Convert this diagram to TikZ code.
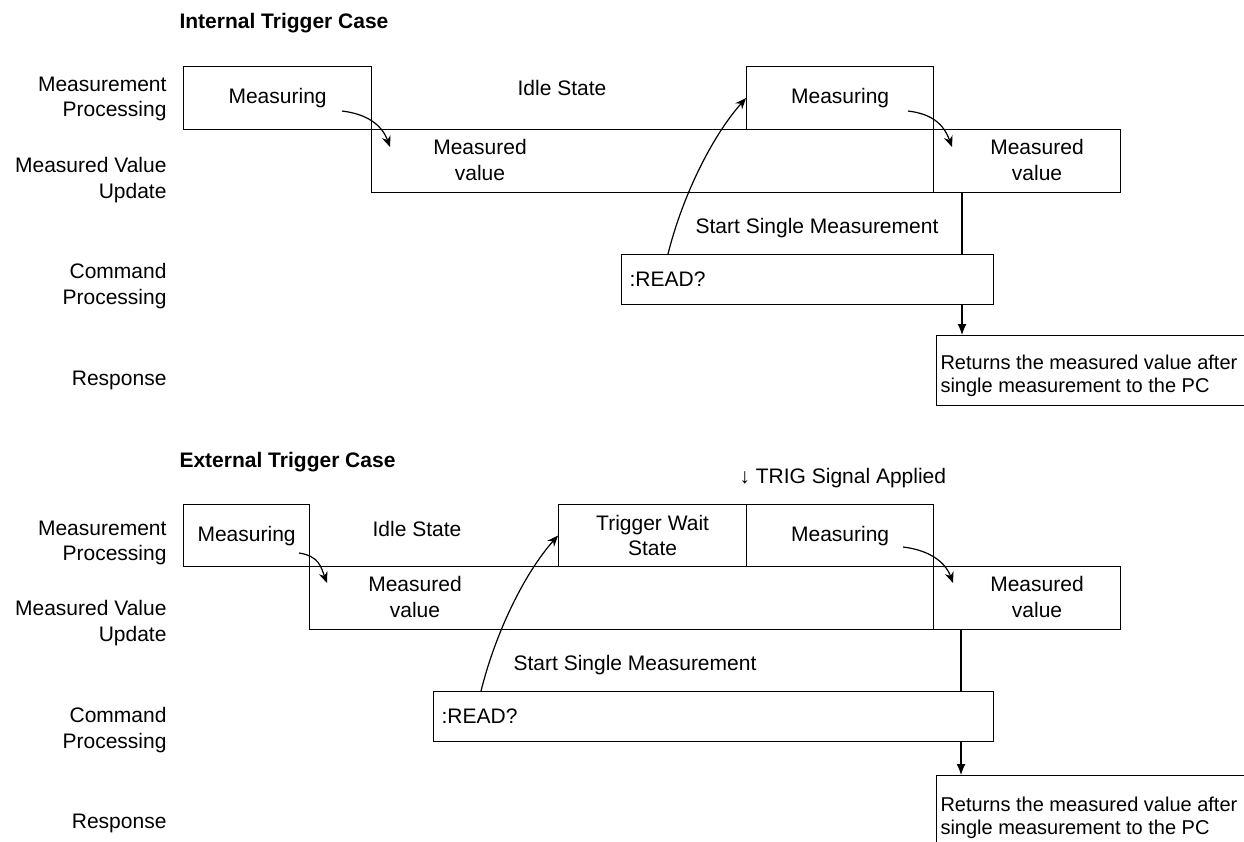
\documentclass[tikz,border=0pt]{standalone}
\usepackage{fontspec}
\setmainfont{Liberation Sans}
\usetikzlibrary{arrows.meta}

\begin{document}
\begin{tikzpicture}[
        x=1pt, y=-1pt,
        font=\fontsize{21}{25.5}\selectfont,
        phase/.style={draw, line width=1.2pt, anchor=north west, inner sep=0pt, align=center},
        rowlabel/.style={anchor=east, align=right},
        casetitle/.style={anchor=west, font=\fontsize{21}{25.5}\selectfont\bfseries},
        note/.style={align=center},
        handoff/.style={line width=1.2pt, -{Stealth[length=11pt,width=9pt]}},
        reply/.style={line width=1.2pt, -{Latex[length=11pt,width=9pt]}}
    ]
        \useasboundingbox (0,0) rectangle (1244,841);

        % Internal trigger case: titles and row labels
        \node[casetitle] (IntTitle) at (176,23) {Internal Trigger Case};
        \node[rowlabel] (IntMP) at (170,99) {Measurement\\Processing};
        \node[rowlabel] (IntMV) at (170,180) {Measured Value\\Update};
        \node[rowlabel] (IntCP) at (170,286) {Command\\Processing};
        \node[rowlabel] (IntRS) at (170,380) {Response};

        % Internal trigger case: phases
        \node[phase, minimum width=188pt, minimum height=63pt] (IntMeasA) at (183,66) {Measuring};
        \node[phase, minimum width=187pt, minimum height=63pt] (IntMeasB) at (746,66) {Measuring};
        \node[phase, minimum width=562pt, minimum height=63pt] (IntValA) at (371,129) {};
        \node[phase, minimum width=187pt, minimum height=63pt] (IntValB) at (933,129) {};
        \node[phase, minimum width=372pt, minimum height=50pt, text width=356pt, align=left] (IntRead) at (621,254) {:READ?};
        \node[phase, minimum width=320pt, minimum height=70pt] (IntResp) at (936,335) {};

        % Internal trigger case: texts
        \node[note] (IntIdle) at (562,88) {Idle State};
        \node[note] (IntValTextA) at (480,160) {Measured\\value};
        \node[note] (IntValTextB) at (1037,160) {Measured\\value};
        \node[note] (IntStart) at (817,228) {Start Single Measurement};
        \node[anchor=west, align=left, font=\fontsize{20}{23}\selectfont] (IntRespText) at (937,376) {Returns the measured value after\\single measurement to the PC};

        % Internal trigger case: connectors
        \coordinate (IntTap) at (962,192);
        \coordinate (IntHopAs) at (342,111);
        \coordinate (IntHopAe) at (390,147);
        \coordinate (IntHopBs) at (908,111);
        \coordinate (IntHopBe) at (952,147);
        % Measuring -> Measured value
        \draw[handoff] (IntHopAs) .. controls +(25,3) and +(-8,-22) .. (IntHopAe);
        \draw[handoff] (IntHopBs) .. controls +(25,3) and +(-8,-22) .. (IntHopBe);
        % :READ? -> Measuring
        \draw[handoff] ([xshift=47pt]IntRead.north west) .. controls +(15,-60) and +(-33,37) .. (IntMeasB.west);
        % Measured value -> :READ? -> Response
        \draw[line width=1.2pt] (IntTap) -- (IntTap |- IntRead.north);
        \draw[reply] (IntTap |- IntRead.south) -- (IntTap |- IntResp.north);

        % External trigger case: titles and row labels
        \node[casetitle] (ExtTitle) at (176,462) {External Trigger Case};
        \node[rowlabel] (ExtMP) at (170,543) {Measurement\\Processing};
        \node[rowlabel] (ExtMV) at (170,623) {Measured Value\\Update};
        \node[rowlabel] (ExtCP) at (170,730) {Command\\Processing};
        \node[rowlabel] (ExtRS) at (170,823) {Response};

        % External trigger case: phases
        \node[phase, minimum width=126pt, minimum height=62pt] (ExtMeasA) at (183,504) {Measuring};
        \node[phase, minimum width=188pt, minimum height=62pt] (ExtWait) at (558,504) {Trigger Wait\\State};
        \node[phase, minimum width=187pt, minimum height=62pt] (ExtMeasB) at (746,504) {Measuring};
        \node[phase, minimum width=624pt, minimum height=63pt] (ExtValA) at (309,566) {};
        \node[phase, minimum width=187pt, minimum height=63pt] (ExtValB) at (933,566) {};
        \node[phase, minimum width=560pt, minimum height=50pt, text width=544pt, align=left] (ExtRead) at (433,691) {:READ?};
        \node[phase, minimum width=320pt, minimum height=90pt] (ExtResp) at (936,775) {};

        % External trigger case: texts
        \node[note] (ExtIdle) at (417,529) {Idle State};
        \node[anchor=west] (ExtTrig) at (736,478) {↓ TRIG Signal Applied};
        \node[note] (ExtValTextA) at (415,597) {Measured\\value};
        \node[note] (ExtValTextB) at (1037,597) {Measured\\value};
        \node[note] (ExtStart) at (635,665) {Start Single Measurement};
        \node[anchor=west, align=left, font=\fontsize{20}{23}\selectfont] (ExtRespText) at (937,818) {Returns the measured value after\\single measurement to the PC};

        % External trigger case: connectors
        \coordinate (ExtTap) at (961,629);
        \coordinate (ExtHopAs) at (299,553);
        \coordinate (ExtHopAe) at (327,583);
        \coordinate (ExtHopBs) at (903,547);
        \coordinate (ExtHopBe) at (953,583);
        % Measuring -> Measured value
        \draw[handoff] (ExtHopAs) .. controls +(20,3) and +(-6,-16) .. (ExtHopAe);
        \draw[handoff] (ExtHopBs) .. controls +(25,3) and +(-8,-22) .. (ExtHopBe);
        % :READ? -> Trigger Wait State
        \draw[handoff] ([xshift=48pt]ExtRead.north west) .. controls +(15,-60) and +(-33,37) .. (ExtWait.west);
        % Measured value -> :READ? -> Response
        \draw[line width=1.2pt] (ExtTap) -- (ExtTap |- ExtRead.north);
        \draw[reply] (ExtTap |- ExtRead.south) -- (ExtTap |- ExtResp.north);

    \end{tikzpicture}
\end{document}
